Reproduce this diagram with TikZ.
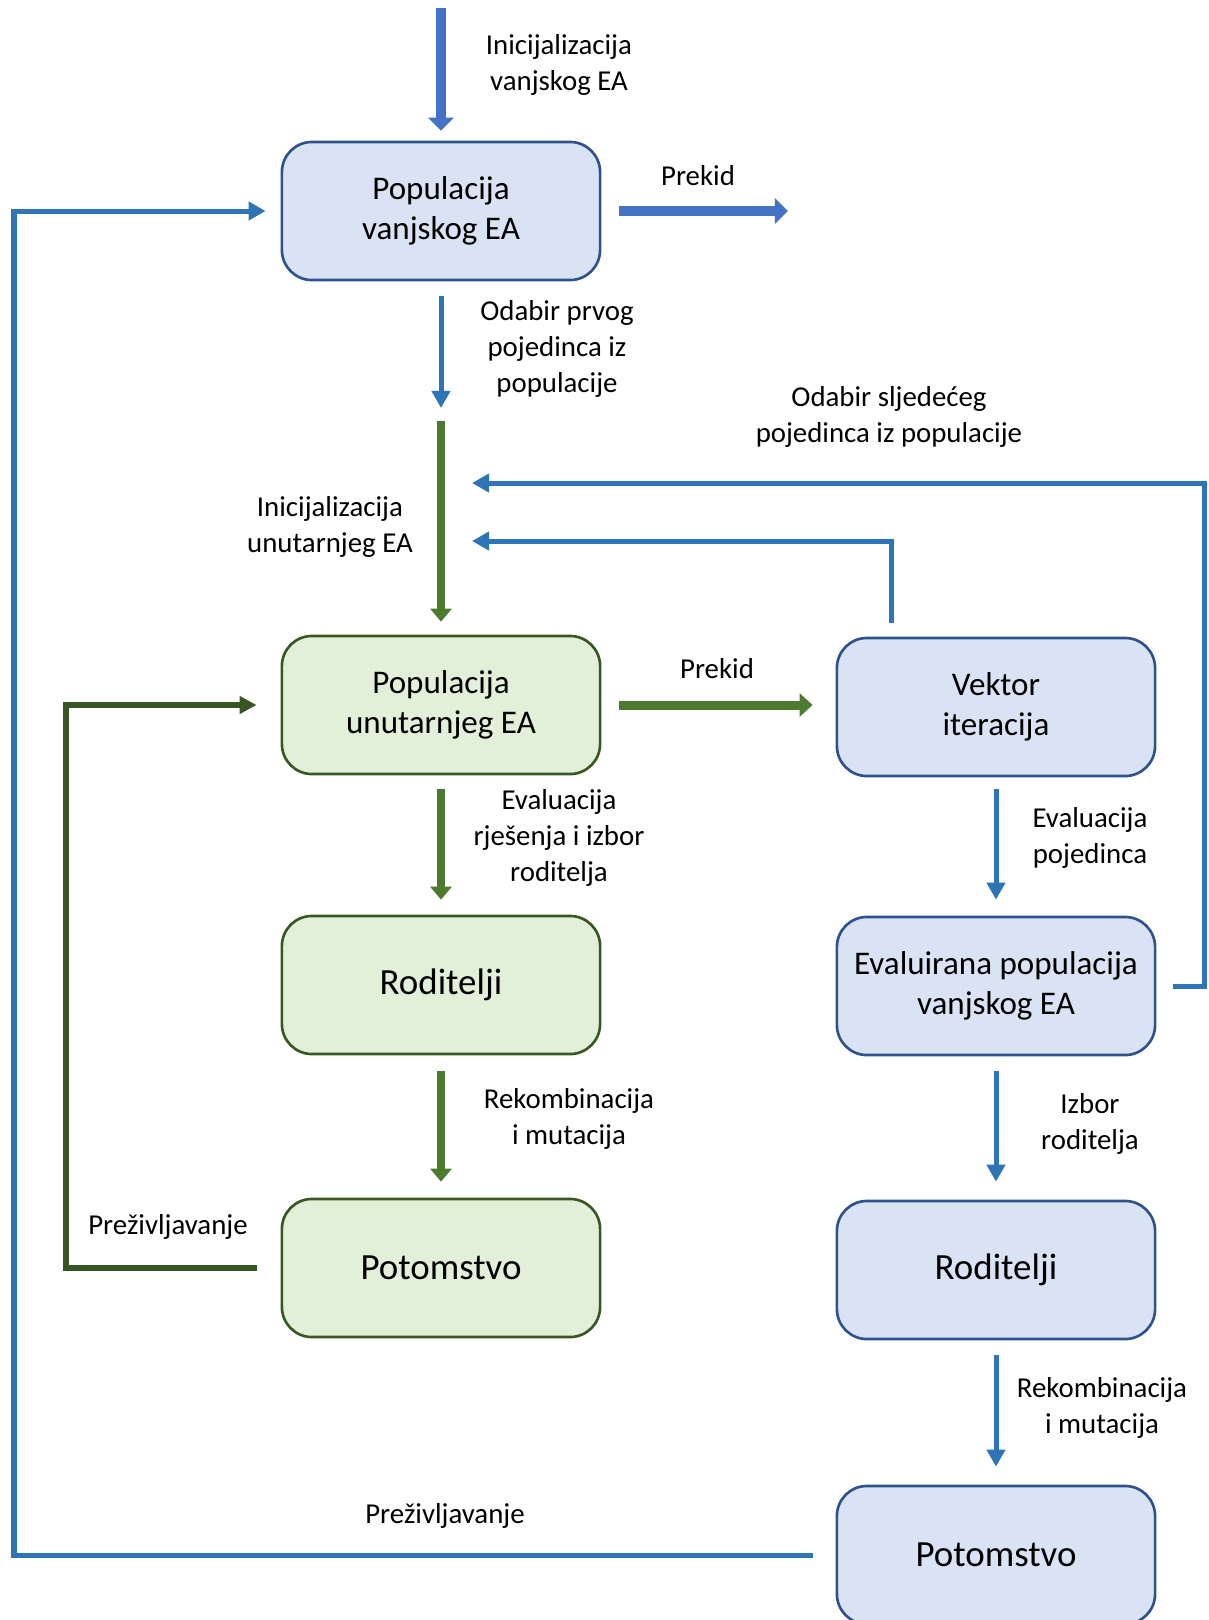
\documentclass[tikz,border=0pt]{standalone}
\usepackage{fontspec}
\setmainfont{Carlito}
\usetikzlibrary{arrows.meta}
\definecolor{boxblue}{HTML}{DAE3F3}
\definecolor{boxblueln}{HTML}{2F528F}
\definecolor{boxgreen}{HTML}{E2F0D9}
\definecolor{boxgreenln}{HTML}{385723}
\definecolor{lnblue}{HTML}{2E75B6}
\definecolor{blkblue}{HTML}{4472C4}
\definecolor{lngreen}{HTML}{4E7A30}
\definecolor{dkgreen}{HTML}{375623}

\begin{document}
\begin{tikzpicture}[x=0.01cm, y=-0.01cm,
  outbox/.style={rectangle, rounded corners=0.3cm, draw=boxblueln, fill=boxblue, line width=0.75pt, minimum width=3.18cm, minimum height=1.38cm, align=center, font=\fontsize{9.4}{11.4}\selectfont},
  inbox/.style={outbox, draw=boxgreenln, fill=boxgreen},
  bigtxt/.style={font=\fontsize{10.5}{12.5}\selectfont},
  lbl/.style={align=center, font=\fontsize{8.2}{10.2}\selectfont},
  blk/.style={line width=0.1cm, blkblue, -{Triangle[width=0.25cm,length=0.13cm]}},
  blarr/.style={line width=0.05cm, lnblue, -{Triangle[width=0.18cm,length=0.17cm]}},
  gnarr/.style={line width=0.08cm, lngreen, -{Triangle[width=0.21cm,length=0.13cm]}},
  gnblk/.style={line width=0.09cm, lngreen, -{Triangle[width=0.23cm,length=0.13cm]}},
  gnloop/.style={line width=0.06cm, dkgreen, -{Triangle[width=0.17cm,length=0.17cm]}}]
\useasboundingbox (0,0) rectangle (1208,1620);

\node[outbox](outpop) at (441,211){Populacija\\vanjskog EA};
\node[inbox](inpop) at (441,705){Populacija\\unutarnjeg EA};
\node[inbox, bigtxt](inpar) at (441,985){Roditelji};
\node[inbox, bigtxt](inoff) at (441,1268){Potomstvo};
\node[outbox](vec) at (996,707){Vektor\\iteracija};
\node[outbox](evpop) at (996,986){Evaluirana populacija\\vanjskog EA};
\node[outbox, bigtxt](outpar) at (996,1270){Roditelji};
\node[outbox, bigtxt](outoff) at (996,1555){Potomstvo};

\coordinate (top) at (441,8);
\coordinate (outend) at (788,211);
\coordinate (sel) at (441,415);
\coordinate (j1) at (441,541);
\coordinate (j2) at (441,483);
\coordinate (nxt) at (891,541);
\coordinate (nr) at (1204,483);
\coordinate (gl) at (66,1268);
\coordinate (bl) at (14,1555);

\node[lbl](linit) at (559,65){Inicijalizacija\\vanjskog EA};
\node[lbl](lstop) at (698,176){Prekid};
\node[lbl](lfirst) at (557,349){Odabir prvog\\pojedinca iz\\populacije};
\node[lbl](lnext) at (889,417){Odabir sljedećeg\\pojedinca iz populacije};
\node[lbl](lininit) at (330,527){Inicijalizacija\\unutarnjeg EA};
\node[lbl](linstop) at (717,669){Prekid};
\node[lbl](leval) at (559,838){Evaluacija\\rješenja i izbor\\roditelja};
\node[lbl](lrec) at (569,1119){Rekombinacija\\i mutacija};
\node[lbl](lsurv) at (168,1227){Preživljavanje};
\node[lbl](levind) at (1090,838){Evaluacija\\pojedinca};
\node[lbl](lsel) at (1090,1124){Izbor\\roditelja};
\node[lbl](lrec2) at (1102,1408){Rekombinacija\\i mutacija};
\node[lbl](lsurv2) at (445,1516){Preživljavanje};

\draw[blk, shorten >=0.1cm] (top) -- (outpop.north);
\draw[blk, shorten <=0.18cm] (outpop.east) -- (outend);
\draw[blarr, shorten <=0.15cm, shorten >=0.07cm] (outpop.south) -- (sel);
\draw[gnarr, shorten <=0.06cm, shorten >=0.13cm] (sel) -- (inpop.north);
\draw[gnblk, shorten <=0.18cm, shorten >=0.23cm] (inpop.east) -- (inpop.east -| vec.west);
\draw[gnarr, shorten <=0.14cm, shorten >=0.15cm] (inpop.south) -- (inpar.north);
\draw[gnarr, shorten <=0.16cm, shorten >=0.16cm] (inpar.south) -- (inoff.north);
\draw[gnloop, shorten <=0.24cm, shorten >=0.24cm] (inoff.west) -- (gl) |- (inpop.west);
\draw[blarr, shorten <=0.12cm, shorten >=0.16cm] (vec.south) -- (evpop.north);
\draw[blarr, shorten <=0.15cm, shorten >=0.18cm] (evpop.south) -- (outpar.north);
\draw[blarr, shorten <=0.15cm, shorten >=0.18cm] (outpar.south) -- (outoff.north);
\draw[blarr, shorten <=0.23cm, shorten >=0.15cm] (outoff.west) -- (bl) |- (outpop.west);
\draw[blarr, shorten <=0.14cm, shorten >=0.31cm] (vec.north -| nxt) -- (nxt) -- (j1);
\draw[blarr, shorten <=0.17cm, shorten >=0.31cm] (evpop.east) -| (nr) -- (j2);
\end{tikzpicture}
\end{document}
